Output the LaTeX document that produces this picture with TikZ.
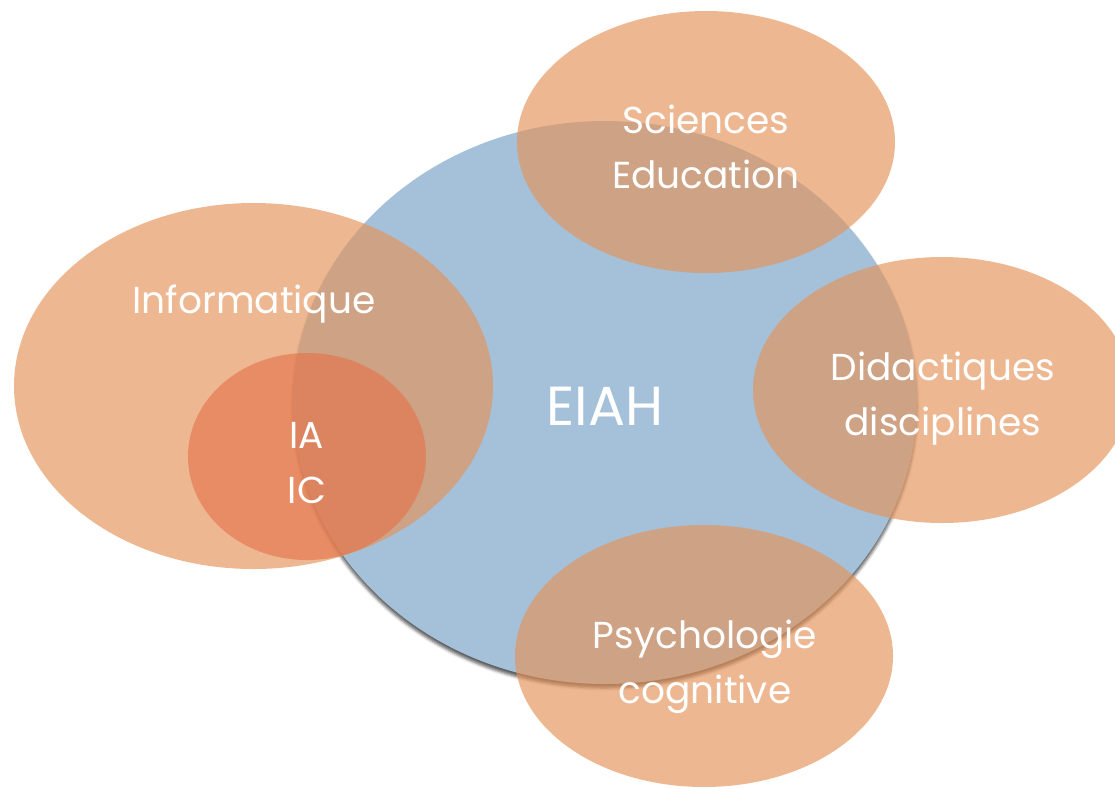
\documentclass[tikz,border=0pt]{standalone}
\usepackage{fontspec}
\setmainfont{Poppins}
\usetikzlibrary{shapes.geometric,shadows.blur}
\definecolor{blueF}{RGB}{165,193,217}
\definecolor{orangeF}{RGB}{228,146,88}
\definecolor{redF}{RGB}{228,112,71}
\tikzset{
  blob/.style={ellipse, inner sep=0pt, outer sep=0pt, draw=none},
  orangeblob/.style={blob, fill=orangeF, fill opacity=0.66},
  iablob/.style={blob, fill=redF, fill opacity=0.6},
  mainblob/.style={blob, fill=blueF, blur shadow={shadow xshift=0pt, shadow yshift=-4pt, shadow blur radius=3pt, shadow opacity=65}},
  lbl/.style={text=white, align=center, anchor=base, inner sep=0pt, font=\fontsize{37.5}{55}\selectfont},
}
\begin{document}
\begin{tikzpicture}[x=1pt,y=-1pt]
\useasboundingbox (0,0) rectangle (1115,788);
\node[mainblob, minimum width=624pt, minimum height=563pt] (eiah) at (605,402.5) {};
\node[orangeblob, minimum width=378pt, minimum height=262pt] (sci) at (706,142) {};
\node[orangeblob, minimum width=479pt, minimum height=366pt] (info) at (253.5,386) {};
\node[iablob, minimum width=238pt, minimum height=207pt] (ia) at (307,456.5) {};
\node[orangeblob, minimum width=378pt, minimum height=266pt] (dida) at (942,390) {};
\node[orangeblob, minimum width=378pt, minimum height=262pt] (psy) at (704,656) {};
\node[lbl, font=\fontsize{55}{60}\selectfont] (teiah) at (605,425) {EIAH};
\node[lbl] (tsci) at (706,188) {Sciences\\Education};
\node[lbl] (tinfo) at (254,313) {Informatique};
\node[lbl] (tia) at (307,503) {IA\\IC};
\node[lbl] (tdida) at (943,435) {Didactiques\\disciplines};
\node[lbl] (tpsy) at (705,703) {Psychologie\\cognitive};
\end{tikzpicture}
\end{document}
